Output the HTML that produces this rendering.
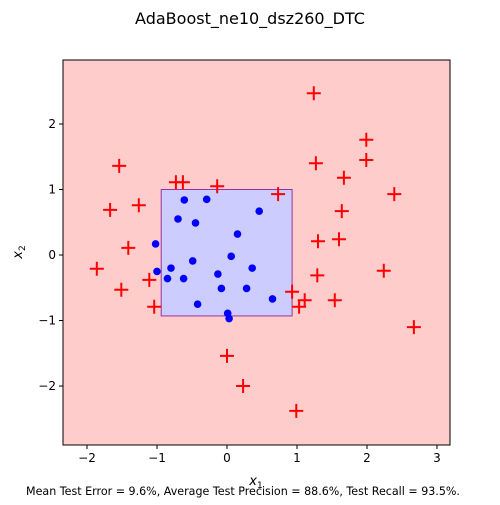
<!DOCTYPE html>
<html><head><meta charset="utf-8"><style>
body{margin:0;background:#fff;font-family:"Liberation Sans","DejaVu Sans",sans-serif}
svg text{font-family:"DejaVu Sans","Liberation Sans",sans-serif}
</style></head><body>
<svg id="chart" width="500" height="500" viewBox="0 0 500 500">
<text x="250" y="24" text-anchor="middle" font-size="16">AdaBoost_ne10_dsz260_DTC</text>
<g id="plot"></g>
<text x="243" y="495" text-anchor="middle" font-size="11.1">Mean Test Error = 9.6%, Average Test Precision = 88.6%, Test Recall = 93.5%.</text>
</svg>
<script>
const crossX=[1.24,1.99,1.99,1.27,-1.54,1.67,-0.73,-0.63,-0.14,0.73,2.39,-1.67,-1.26,1.64,-1.41,1.30,1.60,-1.86,2.24,-1.11,-1.51,1.29,0.93,1.11,1.03,1.54,-1.04,2.67,0.00,0.23,0.99];
const crossY=[2.47,1.76,1.45,1.40,1.36,1.18,1.11,1.11,1.05,0.93,0.93,0.69,0.76,0.67,0.11,0.21,0.24,-0.21,-0.24,-0.38,-0.53,-0.31,-0.56,-0.69,-0.79,-0.69,-0.79,-1.10,-1.54,-2.00,-2.38];
const dotX=[-0.61,-0.29,0.46,-0.70,-0.45,0.15,-1.02,0.06,-0.49,-0.80,-1.00,-0.85,-0.62,-0.13,0.36,-0.08,0.28,0.65,-0.42,0.01,0.03];
const dotY=[0.84,0.85,0.67,0.55,0.49,0.32,0.17,-0.02,-0.09,-0.20,-0.25,-0.36,-0.36,-0.29,-0.20,-0.51,-0.51,-0.67,-0.75,-0.89,-0.97];
const regionX=[-0.94,0.93];
const regionY=[-0.93,1.0];
const xTicks=[-2,-1,0,1,2,3];
const yTicks=[-2,-1,0,1,2];
const xDomain=[-2.343,3.186], yDomain=[-2.9,2.977];
const L=63,R=450,T=60,B=445;
const sx=v=>L+(v-xDomain[0])/(xDomain[1]-xDomain[0])*(R-L);
const sy=v=>B-(v-yDomain[0])/(yDomain[1]-yDomain[0])*(B-T);
const NS="http://www.w3.org/2000/svg";
const g=document.getElementById('plot');
function mk(t,a){const e=document.createElementNS(NS,t);for(const k in a)e.setAttribute(k,a[k]);g.appendChild(e);return e;}
let e=mk('rect',{x:L,y:T,width:R-L,height:B-T,fill:'#ffcccc'});


e=mk('rect',{x:sx(regionX[0]),y:sy(regionY[1]),width:sx(regionX[1])-sx(regionX[0]),height:sy(regionY[0])-sy(regionY[1]),fill:'#ccccff',stroke:'#993399','stroke-width':1});


dotX.forEach((x,i)=>{const c=mk('circle',{cx:sx(x),cy:sy(dotY[i]),r:3.8,fill:'#0000ff'});

});
crossX.forEach((x,i)=>{const cx=sx(x),cy=sy(crossY[i]);const p=mk('path',{d:`M${cx-7} ${cy}H${cx+7}M${cx} ${cy-7}V${cy+7}`,stroke:'#ff0000','stroke-width':2,fill:'none'});

});
e=mk('rect',{x:L,y:T,width:R-L,height:B-T,fill:'none',stroke:'#000','stroke-width':1});


xTicks.forEach(v=>{mk('line',{x1:sx(v),x2:sx(v),y1:B,y2:B+4,stroke:'#000'});
const t=mk('text',{x:sx(v),y:B+17,'text-anchor':'middle','font-size':12});t.textContent=v<0?'\u2212'+(-v):v;

});
yTicks.forEach(v=>{mk('line',{x1:L-4,x2:L,y1:sy(v),y2:sy(v),stroke:'#000'});
const t=mk('text',{x:L-7,y:sy(v)+4,'text-anchor':'end','font-size':12});t.textContent=v<0?'\u2212'+(-v):v;

});
let t=mk('text',{x:256,y:485,'text-anchor':'middle','font-size':13});t.innerHTML='<tspan font-style="italic">x</tspan><tspan font-size="9" dy="3">1</tspan>';


t=mk('text',{x:0,y:0,'text-anchor':'middle','font-size':13,transform:'translate(22,252) rotate(-90)'});t.innerHTML='<tspan font-style="italic">x</tspan><tspan font-size="9" dy="3">2</tspan>';


</script>
</body></html>
